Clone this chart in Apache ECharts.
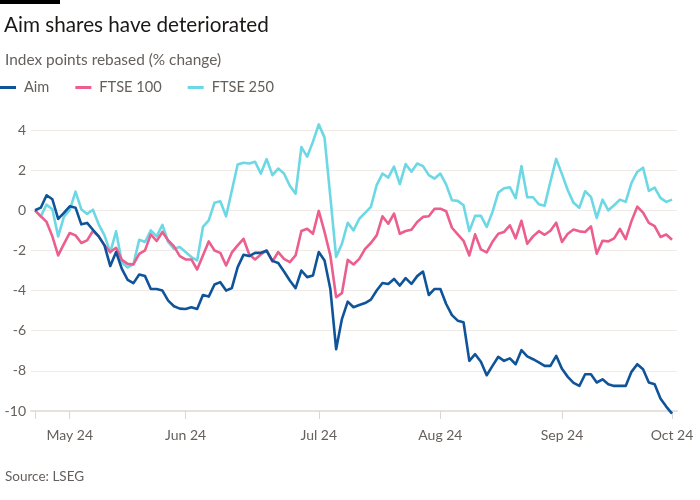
<!DOCTYPE html>
<html><head><meta charset="utf-8">
<script src="https://cdn.jsdelivr.net/npm/echarts@6/dist/echarts.min.js"></script>
<style>html,body{margin:0;padding:0;background:#fff}#c{width:700px;height:500px}</style>
</head><body><div id="c"></div>
<script>
const seriesNames = ['Aim', 'FTSE 100', 'FTSE 250'];
const aim = [0,0.13,0.75,0.55,-0.43,-0.13,0.2,0.13,-0.7,-0.63,
-0.97,-1.3,-1.75,-2.78,-2.08,-2.92,-3.47,-3.63,-3.2,-3.28,
-3.92,-3.92,-4.0,-4.5,-4.78,-4.9,-4.92,-4.83,-4.92,-4.22,
-4.3,-3.7,-3.58,-4.0,-3.87,-2.83,-2.22,-2.28,-2.12,-2.12,
-2.02,-2.52,-2.63,-3.05,-3.5,-3.88,-3.0,-3.33,-3.25,-2.08,
-2.5,-3.92,-6.92,-5.42,-4.55,-4.83,-4.72,-4.62,-4.45,-4.0,
-3.62,-3.67,-3.42,-3.75,-3.38,-3.67,-3.28,-3.05,-4.22,-3.92,
-3.92,-4.67,-5.22,-5.5,-5.58,-7.5,-7.17,-7.55,-8.22,-7.75,
-7.3,-7.5,-7.38,-7.67,-6.97,-7.28,-7.42,-7.58,-7.75,-7.75,
-7.25,-7.9,-8.3,-8.6,-8.75,-8.17,-8.17,-8.58,-8.42,-8.67,
-8.75,-8.75,-8.75,-8.05,-7.67,-7.92,-8.58,-8.67,-9.38,-9.78,
-10.13];
const ftse100 = [0,-0.3,-0.58,-1.3,-2.25,-1.67,-1.13,-1.25,-1.63,-1.5,
-1.03,-1.3,-1.75,-2.08,-1.87,-2.47,-2.67,-2.7,-2.17,-2.0,
-1.2,-1.53,-1.08,-1.5,-1.8,-2.28,-2.45,-2.45,-2.95,-2.25,
-1.55,-2.0,-2.12,-2.75,-2.1,-1.75,-1.42,-2.2,-2.45,-2.2,
-2.0,-2.55,-2.08,-2.42,-2.58,-2.25,-1.03,-0.92,-1.17,-0.03,
-1.08,-2.25,-4.33,-4.13,-2.47,-2.7,-2.42,-1.92,-1.63,-1.25,
-0.3,-0.67,-0.17,-1.17,-1.03,-0.97,-0.58,-0.33,-0.3,0.08,
0.08,-0.05,-0.87,-1.2,-1.52,-2.25,-1.2,-1.95,-2.1,-1.57,
-1.17,-1.08,-0.75,-1.4,-0.52,-1.67,-1.3,-1.04,-1.22,-1.02,
-0.62,-1.58,-1.17,-0.96,-1.05,-1.08,-0.8,-2.17,-1.52,-1.55,
-1.4,-0.93,-1.44,-0.54,0.18,-0.12,-0.63,-0.79,-1.33,-1.21,
-1.47];
const ftse250 = [0,-0.3,0.28,0.05,-1.3,-0.32,0.02,0.93,0.05,-0.18,
0.03,-0.7,-1.25,-2.1,-1.05,-2.6,-2.85,-2.68,-1.47,-1.58,
-1.0,-1.3,-0.73,-1.58,-1.92,-1.83,-2.08,-2.33,-2.5,-0.83,
-0.5,0.38,0.45,-0.3,1.0,2.28,2.37,2.33,2.42,1.83,
2.55,1.75,2.08,1.83,1.22,0.83,3.15,2.67,3.42,4.28,
3.62,0.67,-2.33,-1.67,-0.62,-1.0,-0.42,-0.13,0.17,1.25,
1.83,1.63,2.17,1.3,2.3,1.92,2.33,2.2,1.75,1.58,
1.83,1.28,0.5,0.47,0.25,-1.04,-0.28,-0.28,-0.83,-0.08,
0.88,1.1,1.15,0.6,2.2,0.65,0.65,0.3,0.23,1.42,
2.56,1.8,1.0,0.37,0.13,0.95,0.67,-0.38,0.53,0.0,
0.25,0.53,0.42,1.37,1.92,2.12,0.97,1.13,0.62,0.42,
0.53];
const tickIndex = [0, 6, 26, 49, 70, 91, 110];
const tickLabels = ['', 'May 24', 'Jun 24', 'Jul 24', 'Aug 24', 'Sep 24', 'Oct 24'];
const yMin = -10, yMax = 4, yStep = 2;
const colors = ['#0f5499', '#eb5e8d', '#6cd8e3'];

const FONT = 'Lato';
const chart = echarts.init(document.getElementById('c'), null, {renderer: 'canvas'});
const toPairs = arr => arr.map((v, i) => [i, v]);
const allSeries = [aim, ftse100, ftse250];

chart.setOption({
  backgroundColor: '#ffffff',
  animation: false,
  color: colors,
  graphic: [{type: 'rect', left: 0, top: 0, shape: {width: 60, height: 4}, style: {fill: '#000'}}],
  title: [
    {text: 'Aim shares have deteriorated', left: -1, top: 10,
     textStyle: {fontFamily: FONT, fontSize: 20.7, fontWeight: 'normal', color: '#1a1817'}},
    {text: 'Index points rebased (% change)', left: 0, top: 48,
     textStyle: {fontFamily: FONT, fontSize: 15.4, fontWeight: 'normal', color: '#66605c'}},
    {text: 'Source: LSEG', left: 0, top: 465,
     textStyle: {fontFamily: FONT, fontSize: 13.5, fontWeight: 'normal', color: '#66605c'}}
  ],
  legend: {
    left: 0, top: 80, padding: 0, itemGap: 26,
    icon: 'rect', itemWidth: 16, itemHeight: 3,
    textStyle: {fontFamily: FONT, fontSize: 14.6, color: '#66605c', padding: [0, 0, 0, 3]},
    data: seriesNames
  },
  grid: {left: 31, right: 23, top: 130, bottom: 89, containLabel: false},
  xAxis: {
    type: 'value', min: -0.69, max: 110.86,
    axisLine: {show: true, onZero: false, lineStyle: {color: '#e7e1dc', width: 2}},
    axisTick: {show: true, customValues: tickIndex, length: 8, lineStyle: {color: '#ddd6d0', width: 1}},
    axisLabel: {show: true, customValues: tickIndex.slice(1), margin: 17,
      fontFamily: FONT, fontSize: 14, color: '#66605c',
      formatter: v => tickLabels[tickIndex.indexOf(Math.round(v))] || ''},
    splitLine: {show: false}
  },
  yAxis: {
    type: 'value', min: yMin, max: yMax, interval: yStep,
    axisLine: {show: false}, axisTick: {show: false},
    axisLabel: {fontFamily: FONT, fontSize: 14, color: '#66605c', margin: 5},
    splitLine: {show: true, lineStyle: {color: '#f0ebe6', width: 1}}
  },
  series: seriesNames.map((n, k) => ({
    name: n, type: 'line', data: toPairs(allSeries[k]),
    showSymbol: false, symbol: 'none', clip: false, z: 4 - k,
    lineStyle: {width: 2.6, color: colors[k], join: 'round'}
  }))
});
</script></body></html>
